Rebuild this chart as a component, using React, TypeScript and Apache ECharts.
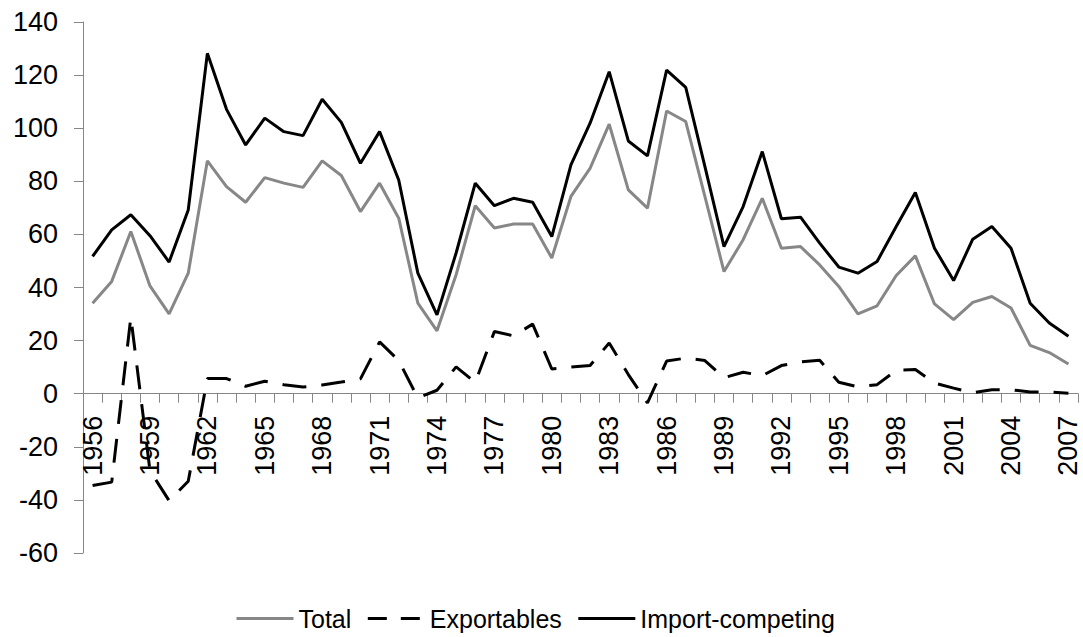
import React, { useEffect, useRef } from "react";
import * as echarts from "echarts";

const years = [
  "1956", "1957", "1958", "1959", "1960", "1961", "1962", "1963", "1964", "1965",
  "1966", "1967", "1968", "1969", "1970", "1971", "1972", "1973", "1974", "1975",
  "1976", "1977", "1978", "1979", "1980", "1981", "1982", "1983", "1984", "1985",
  "1986", "1987", "1988", "1989", "1990", "1991", "1992", "1993", "1994", "1995",
  "1996", "1997", "1998", "1999", "2000", "2001", "2002", "2003", "2004", "2005",
  "2006", "2007",
];

const total = [
  34.1, 42.3, 61.1, 40.6, 30.1, 45.4, 87.7, 78.0, 72.1, 81.4,
  79.3, 77.7, 87.7, 82.2, 68.6, 79.3, 66.1, 34.1, 23.7, 44.8,
  70.8, 62.4, 63.9, 63.9, 51.1, 74.3, 84.9, 101.5, 76.8, 69.9,
  106.5, 102.5, 74.3, 46.0, 58.0, 73.6, 54.8, 55.4, 48.5, 40.4,
  30.1, 33.1, 44.5, 51.9, 33.8, 27.9, 34.4, 36.6, 32.3, 18.2,
  15.5, 11.2,
];

const exportables = [
  -34.6, -33.3, 28.8, -29.0, -40.3, -33.0, 5.7, 5.7, 2.8, 4.7,
  3.4, 2.5, 3.3, 4.4, 5.6, 19.5, 12.5, -1.6, 1.3, 10.1,
  4.3, 23.4, 21.8, 26.2, 9.3, 10.0, 10.6, 19.1, 7.2, -3.5,
  12.3, 13.4, 12.5, 6.0, 8.1, 6.8, 10.6, 12.0, 12.6, 4.3,
  2.6, 3.4, 8.8, 9.1, 4.0, 2.1, 0.4, 1.5, 1.5, 0.6,
  0.6, 0.2,
];

const importCompeting = [
  51.7, 61.7, 67.4, 59.5, 49.6, 69.2, 128.2, 107.1, 93.7, 103.8,
  98.7, 97.2, 110.9, 102.2, 86.8, 98.7, 80.5, 45.4, 29.7, 53.0,
  79.3, 70.8, 73.6, 72.1, 59.2, 86.2, 101.9, 121.3, 95.2, 89.6,
  121.9, 115.4, 85.6, 55.4, 70.5, 91.2, 65.9, 66.5, 56.7, 47.7,
  45.4, 49.8, 63.0, 75.8, 54.8, 42.6, 58.2, 63.0, 54.8, 34.1,
  26.6, 21.6,
];

const seriesNames = ["Total", "Exportables", "Import-competing"];

const FONT = "'Liberation Sans', Arial, sans-serif";
const AXIS_COLOR = "#868686";
const GRAY = "#878787";

const Y_MIN = -60;
const Y_MAX = 140;
const GRID_TOP = 22;
const GRID_BOTTOM = 84;
const CHART_H = 637;

export default function App() {
  const ref = useRef<HTMLDivElement | null>(null);

  useEffect(() => {
    document.body.style.margin = "0";
    if (!ref.current) return;
    const chart = echarts.init(ref.current, undefined, { renderer: "svg" });
    const plotH = CHART_H - GRID_TOP - GRID_BOTTOM;
    // move the category axis (line, ticks and labels) up to the zero line
    const zeroOffset = -(plotH * (0 - Y_MIN)) / (Y_MAX - Y_MIN);
    chart.setOption({
      animation: false,
      backgroundColor: "#ffffff",
      grid: { left: 83, right: 5, top: GRID_TOP, bottom: GRID_BOTTOM, containLabel: false },
      legend: {
        left: 230,
        top: 601,
        itemWidth: 57,
        itemHeight: 14,
        itemGap: 15,
        textStyle: { fontFamily: FONT, fontSize: 25, color: "#000" },
        data: [
          {
            name: seriesNames[0],
            itemStyle: { opacity: 0 },
            lineStyle: { color: GRAY, width: 3 },
          },
          {
            name: seriesNames[1],
            itemStyle: { opacity: 0 },
            lineStyle: { color: "#000", width: 3, type: [19, 14] },
          },
          {
            name: seriesNames[2],
            itemStyle: { opacity: 0 },
            lineStyle: { color: "#000", width: 3 },
          },
        ],
      },
      xAxis: {
        type: "category",
        data: years,
        boundaryGap: true,
        offset: zeroOffset,
        axisLine: { onZero: false, lineStyle: { color: AXIS_COLOR, width: 1 } },
        axisTick: { show: true, interval: 0, length: 9, lineStyle: { color: AXIS_COLOR } },
        axisLabel: {
          interval: 2,
          rotate: 90,
          margin: 22,
          fontSize: 27,
          fontFamily: FONT,
          color: "#000",
        },
        splitLine: { show: false },
      },
      yAxis: {
        type: "value",
        min: Y_MIN,
        max: Y_MAX,
        interval: 20,
        axisLine: { show: true, lineStyle: { color: AXIS_COLOR, width: 1 } },
        axisTick: { show: true, length: 9, lineStyle: { color: AXIS_COLOR } },
        axisLabel: { margin: 25, fontSize: 27, fontFamily: FONT, color: "#000" },
        splitLine: { show: false },
      },
      series: [
        {
          name: seriesNames[0],
          type: "line",
          data: total,
          symbol: "none",
          lineStyle: { color: GRAY, width: 3 },
          itemStyle: { color: GRAY },
          z: 2,
        },
        {
          name: seriesNames[1],
          type: "line",
          data: exportables,
          symbol: "none",
          lineStyle: { color: "#000", width: 3, type: [24, 15] },
          itemStyle: { color: "#000" },
          z: 3,
        },
        {
          name: seriesNames[2],
          type: "line",
          data: importCompeting,
          symbol: "none",
          lineStyle: { color: "#000", width: 3 },
          itemStyle: { color: "#000" },
          z: 4,
        },
      ],
    });
    return () => chart.dispose();
  }, []);

  return <div ref={ref} style={{ width: 1083, height: 637 }} />;
}
